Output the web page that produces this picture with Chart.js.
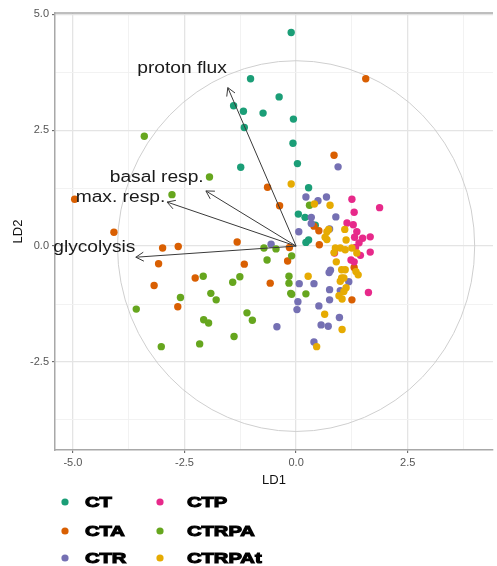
<!DOCTYPE html>
<html><head><meta charset="utf-8">
<script src="https://cdn.jsdelivr.net/npm/chart.js@4"></script>
<style>html,body{margin:0;padding:0;background:#fff}</style>
</head><body><canvas id="c" width="497" height="566"></canvas>
<script>
const categories = ['CT','CTA','CTR','CTP','CTRPA','CTRPAt'];

const ctLD1 = [-0.11,-1.02,-0.38,-1.40,-1.18,-0.74,-0.06,-1.16,-0.07,0.03,-1.24,0.28,0.05,0.20,0.43,0.22,0.28];
const ctLD2 = [4.61,3.61,3.22,3.03,2.91,2.87,2.74,2.56,2.22,1.78,1.70,1.26,0.69,0.62,0.45,0.08,0.13];

const ctaLD1 = [1.56,-4.96,-4.08,0.85,-0.64,-0.37,0.40,0.51,0.52,-0.15,-1.32,-2.99,-2.64,-3.08,-1.16,-3.18,-2.26,-2.65,-0.19,-0.58,1.30,1.25];
const ctaLD2 = [3.61,1.01,0.30,1.96,1.27,0.87,0.43,0.33,0.03,-0.03,0.09,-0.04,-0.01,-0.38,-0.39,-0.85,-0.69,-1.31,-0.32,-0.80,-0.46,-1.16];

const ctrLD1 = [0.94,0.22,0.68,0.49,0.34,0.89,0.34,0.75,0.06,-0.56,0.77,0.74,1.18,0.07,0.40,0.75,0.99,0.75,0.04,0.02,0.51,0.97,0.56,0.72,-0.43,0.40];
const ctrLD2 = [1.71,1.06,1.06,0.98,0.62,0.63,0.49,0.37,0.31,0.04,-0.52,-0.57,-0.77,-0.81,-0.81,-0.94,-0.96,-1.16,-1.20,-1.37,-1.29,-1.54,-1.70,-1.73,-1.74,-2.07];

const ctpLD1 = [1.25,1.87,1.30,1.14,1.28,1.36,1.31,1.49,1.66,1.41,1.33,1.66,1.44,1.23,1.30,0.86,1.62];
const ctpLD2 = [1.01,0.83,0.73,0.50,0.46,0.31,0.19,0.17,0.20,0.07,-0.03,-0.13,-0.20,-0.30,-0.34,-0.15,-1.00];

const ctrpaLD1 = [-3.40,-1.94,-2.78,0.30,-0.72,-0.45,-0.10,-0.65,-0.16,-0.16,-0.12,-0.10,0.22,-1.26,-1.42,-2.08,-1.91,-1.79,-2.59,-3.58,-1.10,-0.98,-2.07,-1.96,-1.39,-3.02,-2.16];
const ctrpaLD2 = [2.37,1.49,1.11,0.88,-0.04,-0.06,-0.21,-0.30,-0.65,-0.80,-1.02,-1.04,-1.03,-0.66,-0.78,-0.65,-1.02,-1.16,-1.11,-1.36,-1.44,-1.60,-1.59,-1.66,-1.95,-2.17,-2.11];

const ctrpatLD1 = [-0.11,0.41,0.76,0.73,0.69,1.09,1.12,0.69,0.65,0.88,0.99,1.10,1.25,0.85,1.36,0.90,1.02,1.10,1.34,1.39,1.02,0.99,1.07,0.27,1.12,1.07,0.96,1.03,0.64,1.03,0.46];
const ctrpatLD2 = [1.34,0.91,0.88,0.36,0.31,0.36,0.13,0.14,0.19,-0.04,-0.04,-0.08,-0.04,-0.14,-0.15,-0.34,-0.51,-0.51,-0.55,-0.62,-0.69,-0.76,-0.69,-0.65,-0.90,-0.98,-1.07,-1.14,-1.47,-1.80,-2.17];

const arrowNames = ['proton flux','basal resp.','max. resp.','glycolysis'];
const arrowLD1 = [-1.53,-2.02,-2.89,-3.59];
const arrowLD2 = [3.42,1.19,0.95,-0.24];
const labelLD1 = [-1.55,-2.07,-2.93,-3.60];
const labelLD2 = [3.73,1.39,0.95,-0.12];
const circleRadius = 4;

const xTicks = [-5,-3.75,-2.5,-1.25,0,1.25,2.5,3.75];
const yTicks = [-3.75,-2.5,-1.25,0,1.25,2.5,3.75,5];

const palette = ['#1B9E77','#D95F02','#7570B3','#E7298A','#66A61E','#E6AB02'];
const series = [[ctLD1,ctLD2],[ctaLD1,ctaLD2],[ctrLD1,ctrLD2],[ctpLD1,ctpLD2],[ctrpaLD1,ctrpaLD2],[ctrpatLD1,ctrpatLD2]];

const FONT = "'Liberation Sans', Arial, sans-serif";
const isMajor = v => Math.abs(v/2.5 - Math.round(v/2.5)) < 1e-6;

const datasets = categories.map((name,i)=>({
  label: name,
  data: series[i][0].map((x,j)=>({x:x, y:series[i][1][j]})),
  backgroundColor: palette[i],
  borderColor: palette[i],
  borderWidth: 0,
  pointRadius: 3.7,
  order: categories.length - i
}));

const circlePlugin = {
  id:'circle',
  beforeDatasetsDraw(chart){
    const {ctx, scales:{x,y}} = chart;
    const cx = x.getPixelForValue(0), cy = y.getPixelForValue(0);
    const rx = x.getPixelForValue(circleRadius) - cx;
    const ry = cy - y.getPixelForValue(circleRadius);
    ctx.save();
    ctx.beginPath();
    ctx.ellipse(cx, cy, rx, ry, 0, 0, Math.PI*2);
    ctx.strokeStyle = '#cfcfcf';
    ctx.lineWidth = 1;
    ctx.stroke();
    ctx.restore();
  }
};

const arrowPlugin = {
  id:'arrows',
  afterDatasetsDraw(chart){
    const {ctx, scales:{x,y}} = chart;
    const ox = x.getPixelForValue(0), oy = y.getPixelForValue(0);
    ctx.save();
    ctx.strokeStyle = '#3a3a3a';
    ctx.lineWidth = 1;
    arrowNames.forEach((name,i)=>{
      const tx = x.getPixelForValue(arrowLD1[i]), ty = y.getPixelForValue(arrowLD2[i]);
      ctx.beginPath(); ctx.moveTo(ox,oy); ctx.lineTo(tx,ty); ctx.stroke();
      const ang = Math.atan2(ty-oy, tx-ox);
      const L = 9, a = Math.PI/6;
      ctx.beginPath();
      ctx.moveTo(tx - L*Math.cos(ang-a), ty - L*Math.sin(ang-a));
      ctx.lineTo(tx,ty);
      ctx.lineTo(tx - L*Math.cos(ang+a), ty - L*Math.sin(ang+a));
      ctx.stroke();
      const lx = x.getPixelForValue(labelLD1[i]), ly = y.getPixelForValue(labelLD2[i]);
      ctx.save();
      ctx.translate(lx, ly);
      ctx.scale(1.2,1);
      ctx.font = '16px ' + FONT;
      ctx.fillStyle = '#1a1a1a';
      ctx.textAlign = 'right';
      ctx.textBaseline = 'alphabetic';
      ctx.fillText(name, 0, 0);
      ctx.restore();
    });
    ctx.restore();
  }
};

const framePlugin = {
  id:'frame',
  afterDraw(chart){
    const {ctx, chartArea:a} = chart;
    ctx.save();
    ctx.strokeStyle = '#a8a8a8';
    ctx.lineWidth = 1.5;
    ctx.beginPath();
    ctx.moveTo(a.left, a.top); ctx.lineTo(a.right, a.top);
    ctx.stroke();
    ctx.restore();
  }
};

const legendPlugin = {
  id:'customLegend',
  afterDraw(chart){
    const {ctx} = chart;
    const colX = [65, 160], textX = [85, 187], rowY = [502, 531, 558];
    ctx.save();
    chart.data.datasets.forEach((ds,i)=>{
      const col = Math.floor(i/3), row = i%3;
      ctx.beginPath();
      ctx.arc(colX[col], rowY[row], 3.6, 0, Math.PI*2);
      ctx.fillStyle = ds.backgroundColor;
      ctx.fill();
      ctx.save();
      ctx.translate(textX[col], rowY[row]);
      ctx.scale(1.3,1);
      ctx.font = 'bold 15.5px ' + FONT;
      ctx.fillStyle = '#000';
      ctx.strokeStyle = '#000';
      ctx.lineWidth = 1.1;
      ctx.textAlign = 'left';
      ctx.textBaseline = 'middle';
      ctx.fillText(ds.label, 0, 1);
      ctx.strokeText(ds.label, 0, 1);
      ctx.restore();
    });
    ctx.restore();
  }
};

const gridColor = c => isMajor(c.tick.value) ? '#e4e4e4' : '#f0f0f0';
const gridWidth = c => isMajor(c.tick.value) ? 1.3 : 0.9;
const tickColor = c => isMajor(c.tick.value) ? '#555' : 'rgba(0,0,0,0)';

new Chart(document.getElementById('c'), {
  type:'scatter',
  data:{datasets},
  options:{
    responsive:false,
    animation:false,
    layout:{padding:{top:13,right:0,left:0,bottom:74}},
    plugins:{legend:{display:false}, tooltip:{enabled:false}},
    scales:{
      x:{
        type:'linear', min:-5.4, max:4.41,
        afterBuildTicks(s){ s.ticks = xTicks.map(v=>({value:v})); },
        afterFit(s){ s.height = 42; },
        ticks:{ autoSkip:false, maxRotation:0, padding:3, color:'#555', font:{family:FONT, size:11},
          callback:v => isMajor(v) ? v.toFixed(1) : '' },
        grid:{ color:gridColor, lineWidth:gridWidth, tickColor:tickColor, tickLength:3, tickWidth:1 },
        border:{ display:true, color:'#a8a8a8', width:1.5 },
        title:{ display:true, text:'LD1', color:'#111', font:{family:FONT, size:13}, padding:{top:4,bottom:4} }
      },
      y:{
        type:'linear', min:-4.4, max:5.03,
        afterBuildTicks(s){ s.ticks = yTicks.map(v=>({value:v})); },
        afterFit(s){ s.width = 55; },
        ticks:{ autoSkip:false, padding:3, color:'#555', font:{family:FONT, size:11},
          callback:v => isMajor(v) ? v.toFixed(1) : '' },
        grid:{ color:gridColor, lineWidth:gridWidth, tickColor:tickColor, tickLength:3, tickWidth:1 },
        border:{ display:true, color:'#a8a8a8', width:1.5 },
        title:{ display:true, text:'LD2', color:'#111', font:{family:FONT, size:13}, padding:{top:11,bottom:0} }
      }
    }
  },
  plugins:[circlePlugin, arrowPlugin, framePlugin, legendPlugin]
});
</script>
</body></html>
